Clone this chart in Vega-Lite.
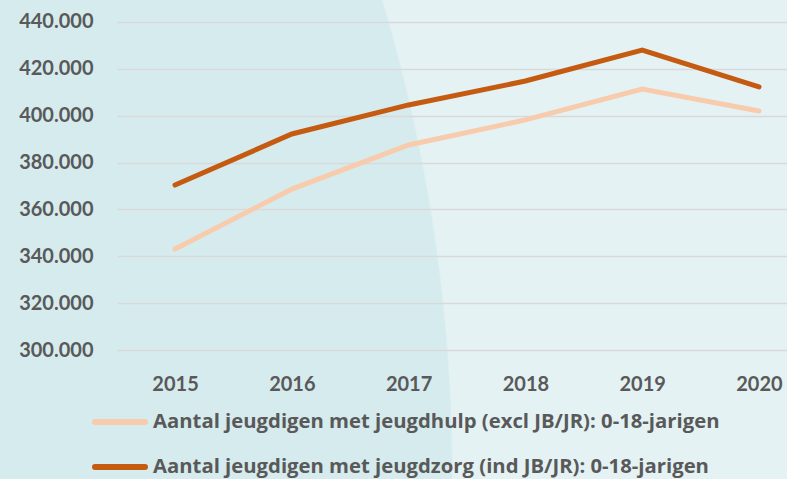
{
  "$schema": "https://vega.github.io/schema/vega-lite/v6.json",
  "width": 670,
  "height": 479,
  "autosize": {"type": "none"},
  "padding": {"left": 117, "top": 0, "right": 0, "bottom": 0},
  "background": "#d6ebee",
  "view": {
    "stroke": null,
    "fill": {
      "gradient": "radial",
      "x1": -1.9724, "y1": 0.8539, "r1": 0,
      "x2": -1.9724, "y2": 0.8539, "r2": 2.4739,
      "stops": [
        {"offset": 0, "color": "#d6ebee"},
        {"offset": 0.999, "color": "#d6ebee"},
        {"offset": 1, "color": "#e4f2f4"}
      ]
    }
  },
  "config": {
    "locale": {"number": {"decimal": ",", "thousands": ".", "grouping": [3], "currency": ["€", ""]}},
    "font": "Lato",
    "axis": {"labelFont": "Lato", "labelFontWeight": "bold", "labelFontSize": 20, "labelColor": "#595959", "domain": false, "ticks": false, "title": null}
  },
  "data": {
    "values": [
      {"year": 2015, "series": "Aantal jeugdigen met jeugdhulp (excl JB/JR): 0-18-jarigen", "value": 343100},
      {"year": 2016, "series": "Aantal jeugdigen met jeugdhulp (excl JB/JR): 0-18-jarigen", "value": 368700},
      {"year": 2017, "series": "Aantal jeugdigen met jeugdhulp (excl JB/JR): 0-18-jarigen", "value": 387500},
      {"year": 2018, "series": "Aantal jeugdigen met jeugdhulp (excl JB/JR): 0-18-jarigen", "value": 398200},
      {"year": 2019, "series": "Aantal jeugdigen met jeugdhulp (excl JB/JR): 0-18-jarigen", "value": 411400},
      {"year": 2020, "series": "Aantal jeugdigen met jeugdhulp (excl JB/JR): 0-18-jarigen", "value": 402000},
      {"year": 2015, "series": "Aantal jeugdigen met jeugdzorg (ind JB/JR): 0-18-jarigen", "value": 370400},
      {"year": 2016, "series": "Aantal jeugdigen met jeugdzorg (ind JB/JR): 0-18-jarigen", "value": 392200},
      {"year": 2017, "series": "Aantal jeugdigen met jeugdzorg (ind JB/JR): 0-18-jarigen", "value": 404600},
      {"year": 2018, "series": "Aantal jeugdigen met jeugdzorg (ind JB/JR): 0-18-jarigen", "value": 414800},
      {"year": 2019, "series": "Aantal jeugdigen met jeugdzorg (ind JB/JR): 0-18-jarigen", "value": 428000},
      {"year": 2020, "series": "Aantal jeugdigen met jeugdzorg (ind JB/JR): 0-18-jarigen", "value": 412300}
    ]
  },
  "mark": {"type": "line", "strokeWidth": 5, "strokeCap": "round"},
  "encoding": {
    "x": {
      "field": "year",
      "type": "quantitative",
      "scale": {"domain": [2014.503, 2020.24], "nice": false, "zero": false},
      "axis": {"values": [2015, 2016, 2017, 2018, 2019, 2020], "format": "d", "grid": false, "offset": -89, "labelPadding": 0, "labelBaseline": "alphabetic", "labelFlush": false, "labelOverlap": false}
    },
    "y": {
      "field": "value",
      "type": "quantitative",
      "scale": {"domain": [244942, 449390], "nice": false, "zero": false},
      "axis": {"values": [300000, 320000, 340000, 360000, 380000, 400000, 420000, 440000], "format": ",d", "grid": true, "gridColor": "#d9d9d9", "gridWidth": 1.5, "labelPadding": 24, "labelBaseline": "middle"}
    },
    "color": {
      "field": "series",
      "type": "nominal",
      "scale": {
        "domain": ["Aantal jeugdigen met jeugdhulp (excl JB/JR): 0-18-jarigen", "Aantal jeugdigen met jeugdzorg (ind JB/JR): 0-18-jarigen"],
        "range": ["#f8cbad", "#c55a11"]
      },
      "legend": {
        "title": null,
        "orient": "none",
        "legendX": -25,
        "legendY": 402,
        "direction": "vertical",
        "padding": 0,
        "symbolType": "stroke",
        "symbolSize": 2500,
        "symbolStrokeWidth": 6,
        "clipHeight": 40,
        "rowPadding": 5,
        "labelOffset": 5,
        "labelFont": "Open Sans",
        "labelFontWeight": "bold",
        "labelFontSize": 20.3,
        "labelColor": "#595959",
        "labelLimit": 0,
        "encode": {"symbols": {"update": {"strokeCap": {"value": "round"}}}}
      }
    }
  }
}
